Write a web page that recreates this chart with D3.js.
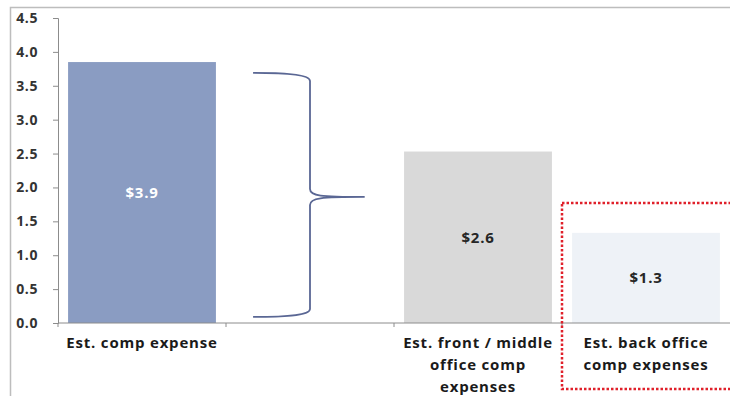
<!DOCTYPE html>
<html>
<head>
<meta charset="utf-8">
<script src="https://cdn.jsdelivr.net/npm/d3@7"></script>
<style>
  body { margin: 0; background: #fff; }
  svg text { font-family: "Open Sans", Lato, sans-serif; font-weight: 700; }
</style>
</head>
<body>
<div id="chart"></div>
<script>
// data
var categories = ["comp", "brace", "front", "back"];
var categoryLabels = [
  ["Est. comp expense"],
  [],
  ["Est. front / middle", "office comp", "expenses"],
  ["Est. back office", "comp expenses"]
];
var values = [3.85, null, 2.53, 1.33];
var valueLabels = ["$3.9", "", "$2.6", "$1.3"];
var barColors = ["#8a9cc2", null, "#d9d9d9", "#eef2f7"];
var labelColors = ["#ffffff", null, "#262626", "#262626"];
var yTicks = [0, 0.5, 1, 1.5, 2, 2.5, 3, 3.5, 4, 4.5];
// brace spanning the first bar: bottom, middle (tip), top
var braceRange = [0.09, 1.86, 3.69];

var w = 730, h = 396;

var svg = d3.select("#chart")
    .append("svg")
    .attr("width", w)
    .attr("height", h);

// outer frame
svg.append("path")
    .attr("d", "M10.5," + h + "V7.5H" + w)
    .attr("fill", "none")
    .attr("stroke", "#bdbdbd")
    .attr("stroke-width", 1.5);

var x = d3.scaleBand()
    .domain(categories)
    .range([58, 730])
    .paddingInner(0.12)
    .paddingOuter(0.06);

var y = d3.scaleLinear()
    .domain([0, 4.5])
    .range([323, 18]);

// y axis
var yAxis = svg.append("g")
    .attr("transform", "translate(58,0)")
    .call(d3.axisLeft(y).tickValues(yTicks).tickSize(5).tickPadding(15)
        .tickFormat(d3.format(".1f")));
yAxis.select(".domain").attr("stroke", "#8c8c8c");
yAxis.selectAll(".tick line").attr("stroke", "#8c8c8c");
yAxis.selectAll("text")
    .attr("fill", "#333")
    .style("font-size", "14px")
    .style("letter-spacing", "0.6px");

// bars
var bars = categories.map(function(c, i) { return { key: c, i: i, v: values[i] }; })
    .filter(function(d) { return d.v != null; });

svg.selectAll("rect.bar")
    .data(bars)
    .enter().append("rect")
    .attr("class", "bar")
    .attr("x", function(d) { return x(d.key); })
    .attr("y", function(d) { return y(d.v); })
    .attr("width", x.bandwidth())
    .attr("height", function(d) { return y(0) - y(d.v); })
    .attr("fill", function(d) { return barColors[d.i]; });

svg.selectAll("text.val")
    .data(bars)
    .enter().append("text")
    .attr("class", "val")
    .attr("x", function(d) { return x(d.key) + x.bandwidth() / 2; })
    .attr("y", function(d) { return (y(d.v) + y(0)) / 2; })
    .attr("dy", "0.35em")
    .attr("text-anchor", "middle")
    .attr("fill", function(d) { return labelColors[d.i]; })
    .style("font-size", "15px")
    .style("letter-spacing", "0.8px")
    .text(function(d) { return valueLabels[d.i]; });

// x axis, ticks between categories
svg.append("line")
    .attr("x1", 58).attr("x2", w)
    .attr("y1", y(0)).attr("y2", y(0))
    .attr("stroke", "#8c8c8c");
var bounds = categories.map(function(c) { return x(c) - x.step() * x.paddingInner() / 2; });
svg.selectAll("line.xtick")
    .data(bounds)
    .enter().append("line")
    .attr("class", "xtick")
    .attr("x1", function(d) { return d; }).attr("x2", function(d) { return d; })
    .attr("y1", y(0)).attr("y2", y(0) + 4)
    .attr("stroke", "#8c8c8c");

var xl = svg.selectAll("text.xl")
    .data(categories)
    .enter().append("text")
    .attr("class", "xl")
    .attr("text-anchor", "middle")
    .attr("fill", "#1a1a1a")
    .style("font-size", "15px")
    .style("letter-spacing", "0.8px");
xl.each(function(c, i) {
    var t = d3.select(this);
    categoryLabels[i].forEach(function(line, k) {
        t.append("tspan")
            .attr("x", x(c) + x.bandwidth() / 2)
            .attr("y", 348 + k * 22)
            .text(line);
    });
});

// curly brace in the empty slot
var bx0 = x("brace") + x.bandwidth() * 0.115,
    bx1 = x("brace") + x.bandwidth() * 0.5,
    bx2 = x("brace") + x.bandwidth() * 0.87;
var yb = y(braceRange[0]), ym = y(braceRange[1]), yt = y(braceRange[2]);
var brace = d3.path();
brace.moveTo(bx0, yt);
brace.bezierCurveTo(bx1 - 30, yt, bx1, yt + 1, bx1, yt + 8);
brace.lineTo(bx1, ym - 8);
brace.bezierCurveTo(bx1, ym - 1, bx1 + 10, ym, bx2, ym);
brace.bezierCurveTo(bx1 + 10, ym, bx1, ym + 1, bx1, ym + 8);
brace.lineTo(bx1, yb - 8);
brace.bezierCurveTo(bx1, yb - 1, bx1 - 30, yb, bx0, yb);
svg.append("path")
    .attr("d", brace.toString())
    .attr("fill", "none")
    .attr("stroke", "#5a6794")
    .attr("stroke-width", 1.8);

// red dotted box round the back office bar
svg.append("rect")
    .attr("x", bounds[3])
    .attr("y", 203)
    .attr("width", w - bounds[3] + 10)
    .attr("height", 186)
    .attr("fill", "none")
    .attr("stroke", "#e0202a")
    .attr("stroke-width", 2.5)
    .attr("stroke-dasharray", "2.5,2");
</script>
</body>
</html>
